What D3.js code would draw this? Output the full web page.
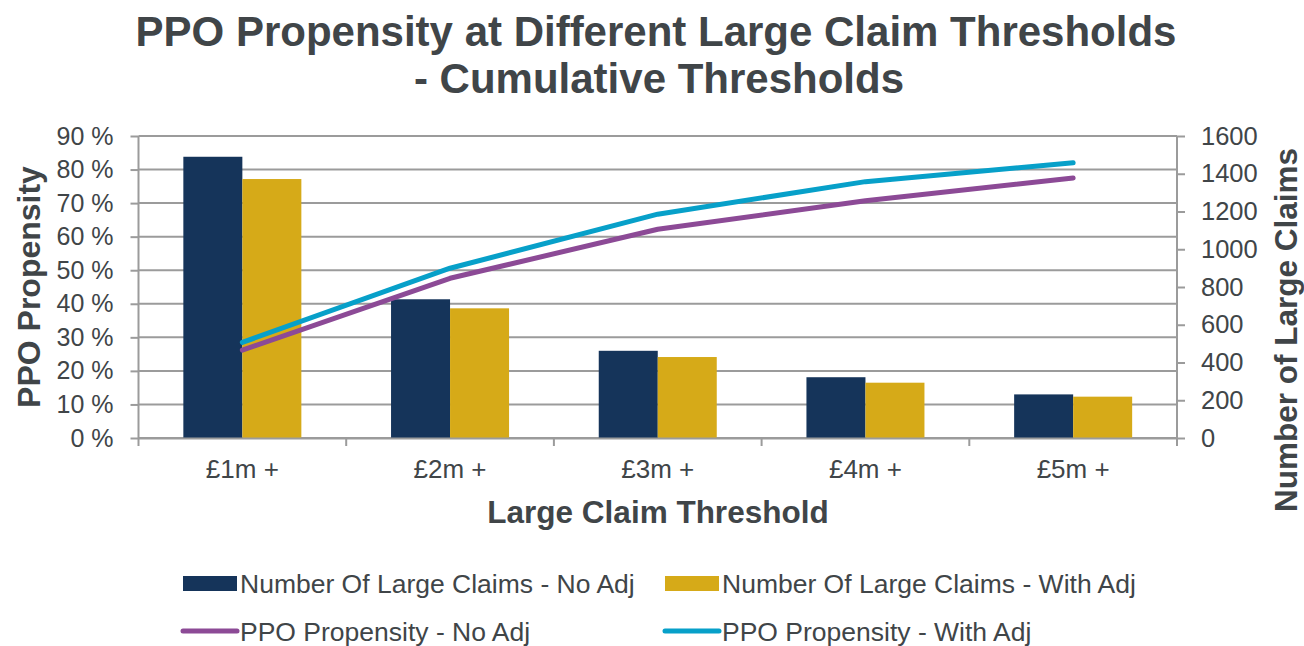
<!DOCTYPE html>
<html>
<head>
<meta charset="utf-8">
<script src="https://cdn.jsdelivr.net/npm/d3@7"></script>
<style>
  body { margin: 0; background: #fff; }
  text { font-family: "Liberation Sans", Arial, sans-serif; fill: #404548; }
</style>
</head>
<body>
<div id="chart"></div>
<script>
// data
var categories = ["£1m +", "£2m +", "£3m +", "£4m +", "£5m +"];
var claimsNoAdj = [1490, 735, 462, 322, 231];
var claimsWithAdj = [1372, 687, 429, 293, 219];
var ppoNoAdj = [0.262, 0.476, 0.622, 0.707, 0.775];
var ppoWithAdj = [0.285, 0.506, 0.667, 0.764, 0.820];
var leftTicks = [0, 0.1, 0.2, 0.3, 0.4, 0.5, 0.6, 0.7, 0.8, 0.9];
var rightTicks = [0, 200, 400, 600, 800, 1000, 1200, 1400, 1600];
var barSeries = ["Number Of Large Claims - No Adj", "Number Of Large Claims - With Adj"];
var lineSeries = ["PPO Propensity - No Adj", "PPO Propensity - With Adj"];

var W = 1304, H = 646;
var margin = {top: 136, right: 127, bottom: 208, left: 138.5};
var width = W - margin.left - margin.right,
    height = H - margin.top - margin.bottom;

var navy = '#15345a', gold = '#d6aa18', purple = '#8c4a96', cyan = '#07a0c9';
var gridColor = '#9b9b9b';

var svg = d3.select("#chart").append("svg")
    .attr("width", W)
    .attr("height", H);

var g = svg.append("g")
    .attr("transform", "translate(" + margin.left + "," + margin.top + ")");

// scales
var x0 = d3.scaleBand().domain(categories).range([0, width]).padding(0);
var x1 = d3.scaleBand().domain([0, 1]).range([0, x0.bandwidth()]).paddingInner(0).paddingOuter(0.76);
var yLeft = d3.scaleLinear().domain([0, 0.9]).range([height, 0]);
var yRight = d3.scaleLinear().domain([0, 1600]).range([height, 0]);

// gridlines
g.selectAll(".grid")
    .data(leftTicks)
    .enter().append("line")
    .attr("x1", 0).attr("x2", width)
    .attr("y1", function(d){ return yLeft(d); })
    .attr("y2", function(d){ return yLeft(d); })
    .style("stroke", gridColor)
    .style("stroke-width", 2);

// bars
var barData = [claimsNoAdj, claimsWithAdj];
var barColors = [navy, gold];
barData.forEach(function(series, s){
    g.selectAll(".bar" + s)
        .data(series)
        .enter().append("rect")
        .attr("x", function(d, i){ return x0(categories[i]) + x1(s); })
        .attr("width", x1.bandwidth())
        .attr("y", function(d){ return yRight(d); })
        .attr("height", function(d){ return height - yRight(d); })
        .style("fill", barColors[s]);
});

// lines
var lineData = [ppoNoAdj, ppoWithAdj];
var lineColors = [purple, cyan];
var line = d3.line()
    .x(function(d, i){ return x0(categories[i]) + x0.bandwidth() / 2; })
    .y(function(d){ return yLeft(d); });
lineData.forEach(function(series, s){
    g.append("path")
        .datum(series)
        .attr("d", line)
        .style("fill", "none")
        .style("stroke", lineColors[s])
        .style("stroke-width", 5)
        .style("stroke-linecap", "round")
        .style("stroke-linejoin", "round");
});

// axes
var leftAxis = d3.axisLeft(yLeft).tickValues(leftTicks)
    .tickFormat(function(d){ return Math.round(d * 100) + " %"; })
    .tickSize(8).tickPadding(17);
var rightAxis = d3.axisRight(yRight).tickValues(rightTicks)
    .tickFormat(d3.format("d"))
    .tickSize(8).tickPadding(16);
var bottomAxis = d3.axisBottom(x0).tickSize(0).tickPadding(22);

function styleAxis(sel, size){
    sel.select(".domain").style("stroke", gridColor).style("stroke-width", 2);
    sel.selectAll(".tick line").style("stroke", gridColor).style("stroke-width", 2);
    sel.selectAll("text").style("font-size", size + "px").style("fill", "#404548")
        .style("font-family", '"Liberation Sans", Arial, sans-serif');
}

g.append("g").call(leftAxis).call(styleAxis, 25)
    .select(".domain").attr("d", "M0," + (height + 8) + "V0");
g.append("g").attr("transform", "translate(" + width + ",0)")
    .call(rightAxis).call(styleAxis, 25.5)
    .select(".domain").attr("d", "M0," + (height + 8) + "V0");
var xg = g.append("g").attr("transform", "translate(0," + height + ")")
    .call(bottomAxis).call(styleAxis, 26);
// category separator ticks
xg.selectAll(".sep")
    .data(categories.slice(1))
    .enter().append("line")
    .attr("x1", function(d){ return x0(d); })
    .attr("x2", function(d){ return x0(d); })
    .attr("y1", 0).attr("y2", 8)
    .style("stroke", gridColor).style("stroke-width", 2);

// titles
svg.append("text")
    .attr("x", 656).attr("y", 46)
    .attr("text-anchor", "middle")
    .style("font-size", "42px").style("font-weight", "bold")
    .text("PPO Propensity at Different Large Claim Thresholds");
svg.append("text")
    .attr("x", 659).attr("y", 93)
    .attr("text-anchor", "middle")
    .style("font-size", "42px").style("font-weight", "bold")
    .text("- Cumulative Thresholds");

svg.append("text")
    .attr("transform", "translate(40," + (margin.top + height / 2) + ") rotate(-90)")
    .attr("text-anchor", "middle")
    .style("font-size", "32px").style("font-weight", "bold")
    .text("PPO Propensity");
svg.append("text")
    .attr("transform", "translate(1297,330) rotate(-90)")
    .attr("text-anchor", "middle")
    .style("font-size", "31.5px").style("font-weight", "bold")
    .text("Number of Large Claims");
svg.append("text")
    .attr("x", 658).attr("y", 523)
    .attr("text-anchor", "middle")
    .style("font-size", "31.5px").style("font-weight", "bold")
    .text("Large Claim Threshold");

// legend
var legendX = [183, 665];
var legend = svg.append("g");
barSeries.forEach(function(name, i){
    legend.append("rect")
        .attr("x", legendX[i]).attr("y", 576)
        .attr("width", 54).attr("height", 15)
        .style("fill", barColors[i]);
    legend.append("text")
        .attr("x", legendX[i] + 57).attr("y", 593)
        .style("font-size", "26.5px")
        .text(name);
});
lineSeries.forEach(function(name, i){
    legend.append("line")
        .attr("x1", legendX[i]).attr("x2", legendX[i] + 54)
        .attr("y1", 631).attr("y2", 631)
        .style("stroke", lineColors[i])
        .style("stroke-width", 5)
        .style("stroke-linecap", "round");
    legend.append("text")
        .attr("x", legendX[i] + 57).attr("y", 641)
        .style("font-size", "26.5px")
        .text(name);
});
</script>
</body>
</html>
